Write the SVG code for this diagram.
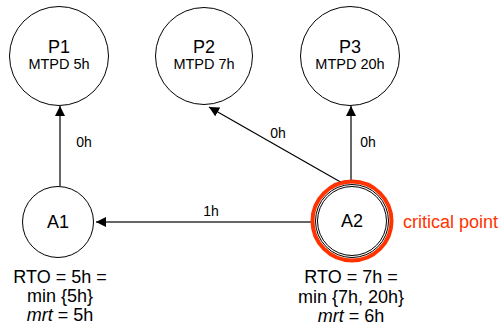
<svg xmlns="http://www.w3.org/2000/svg" width="499" height="326" viewBox="0 0 499 326">
<style>
  .node { fill: #ffffff; stroke: #000000; stroke-width: 1; }
  .t { font-family: "Liberation Sans", Arial, sans-serif; fill: #000000; text-anchor: middle; }
  .big { font-size: 18px; }
  .sm { font-size: 14.5px; }
  .lbl { font-family: "Liberation Sans", Arial, sans-serif; font-size: 14px; fill: #000000; text-anchor: middle; }
  .edge { stroke: #000000; stroke-width: 1.2; fill: none; marker-end: url(#arr); }
  .crit { fill: none; stroke: #ff3300; stroke-width: 4; }
</style>
<defs>
  <marker id="arr" viewBox="0 0 10 10" refX="10" refY="5" markerWidth="10" markerHeight="10" markerUnits="userSpaceOnUse" orient="auto">
    <path d="M0,0 L10,5 L0,10 z" fill="#000000"/>
  </marker>
</defs>
<rect width="499" height="326" fill="#ffffff"/>
<g id="connectors">
  <line class="edge" x1="60" y1="186" x2="60" y2="106"/>
  <line class="edge" x1="351" y1="181" x2="351" y2="106"/>
  <line class="edge" x1="344" y1="184" x2="209" y2="107"/>
  <line class="edge" x1="312" y1="222" x2="96" y2="222" style="stroke:#333333;stroke-width:1.6"/>
  <text class="lbl" x="84" y="147">0h</text>
  <text class="lbl" x="368" y="147">0h</text>
  <text class="lbl" x="278" y="138">0h</text>
  <text class="lbl" x="211" y="216">1h</text>
</g>
<g id="P1">
  <circle class="node" cx="59" cy="56" r="49.5"/>
  <text class="t big" x="59" y="53">P1</text>
  <text class="t sm" x="59" y="69">MTPD 5h</text>
</g>
<g id="P2">
  <circle class="node" cx="204" cy="56" r="48.5"/>
  <text class="t big" x="204" y="53">P2</text>
  <text class="t sm" x="204" y="69">MTPD 7h</text>
</g>
<g id="P3">
  <circle class="node" cx="350" cy="56" r="49.5"/>
  <text class="t big" x="350" y="53">P3</text>
  <text class="t sm" x="350" y="69">MTPD 20h</text>
</g>
<g id="A1">
  <circle class="node" cx="58" cy="222" r="35.5"/>
  <text class="t big" x="58" y="228">A1</text>
  <text class="t big" x="60" y="283">RTO = 5h =</text>
  <text class="t big" x="60" y="302">min {5h}</text>
  <text class="t big" x="60" y="321"><tspan font-style="italic">mrt</tspan> = 5h</text>
</g>
<g id="A2">
  <circle class="crit" cx="352" cy="221" r="39.5"/>
  <circle class="node" cx="352" cy="221" r="36.5"/>
  <circle class="node" cx="352" cy="221" r="34.5"/>
  <text class="t big" x="352" y="227">A2</text>
  <text class="t big" x="351" y="283">RTO = 7h =</text>
  <text class="t big" x="351" y="303">min {7h, 20h}</text>
  <text class="t big" x="351" y="322"><tspan font-style="italic">mrt</tspan> = 6h</text>
  <text x="403" y="228" font-family="Liberation Sans, Arial, sans-serif" font-size="18" fill="#ff3300">critical point</text>
</g>
</svg>
